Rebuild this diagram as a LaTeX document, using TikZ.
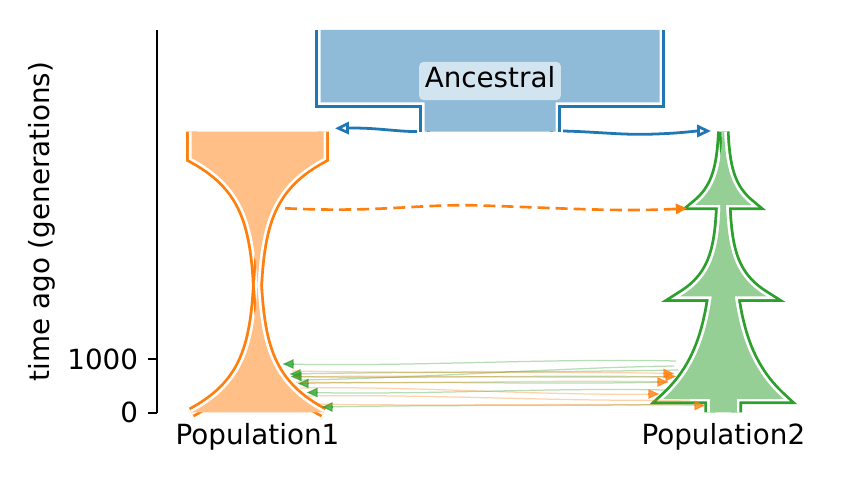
\documentclass[tikz,border=0pt]{standalone}
\usepackage{fontspec}
\setmainfont{DejaVu Sans}
\usetikzlibrary{arrows.meta}
\definecolor{tabblue}{HTML}{1F77B4}
\definecolor{taborange}{HTML}{FF7F0E}
\definecolor{tabgreen}{HTML}{2CA02C}
\definecolor{fillblue}{RGB}{143,187,217}
\definecolor{fillorange}{RGB}{255,191,134}
\definecolor{fillgreen}{RGB}{149,207,149}
\definecolor{labelbox}{RGB}{210,228,240}
\begin{document}
\begin{tikzpicture}[x=0.36pt,y=-0.36pt,font=\fontsize{10}{12}\selectfont,
  popline/.style={line width=1pt, double=white, double distance=1.9pt, line join=miter},
  axisline/.style={line width=0.8pt, black},
  ticklabel/.style={anchor=east, inner sep=0pt},
  poplabel/.style={anchor=base, inner sep=0pt},
  ancarrow/.style={tabblue, line width=1pt, -{Triangle[length=5pt,width=4.4pt,fill=white]}},
  pulsearrow/.style={taborange, line width=0.95pt, dash pattern=on 4.3pt off 2.2pt, -{Triangle[length=4pt,width=3.6pt]}},
  migline/.style={line width=0.45pt, opacity=0.35},
  mighead/.style={line width=0.45pt, opacity=0.75, -{Triangle[length=3.8pt,width=3.4pt]}}]
\useasboundingbox (0,0) rectangle (852,480);

% ---- axis ----
\draw[axisline] (156.7,30) -- (156.7,412.7);
\draw[axisline] (148.3,412.7) -- (156.7,412.7);
\draw[axisline] (148.3,359.3) -- (156.7,359.3);
\node[ticklabel] (t0) at (138.6,412.7) {0};
\node[ticklabel] (t1000) at (138.6,359.3) {1000};
\node[rotate=90, inner sep=0pt] (ylab) at (41.7,221.5) {time ago (generations)};

% ---- Ancestral ----
\draw[tabblue, popline] (320.5,30) -- (320.5,102.5) -- (424.5,102.5) -- (424.5,131.7);
\draw[tabblue, popline] (659.5,30) -- (659.5,102.5) -- (555.5,102.5) -- (555.5,131.7);
\fill[fillblue] (320.5,30) -- (320.5,102.5) -- (424.5,102.5) -- (424.5,131.7) -- (555.5,131.7)
  -- (555.5,102.5) -- (659.5,102.5) -- (659.5,30) -- cycle;
\node[fill=labelbox, rounded corners=1.5pt, inner xsep=2pt, inner ysep=2pt,
  text height=7.3pt, text depth=2.4pt] (anc) at (490,81) {Ancestral};

% ---- Population1 ----
\draw[taborange, popline] (191.5,131.7) -- (191.5,158)
  -- plot[domain=158:285, samples=40, variable=\t] ({259.5-68*exp(-0.0275*(\t-158))},\t)
  -- plot[domain=285:412.5, samples=40, variable=\t] ({259.5-68*exp(-0.0275*(412.5-\t))},\t);
\draw[taborange, popline] (323.5,131.7) -- (323.5,158)
  -- plot[domain=158:285, samples=40, variable=\t] ({255.5+68*exp(-0.0275*(\t-158))},\t)
  -- plot[domain=285:412.5, samples=40, variable=\t] ({255.5+68*exp(-0.0275*(412.5-\t))},\t);
\fill[fillorange] (191.5,131.7) -- (191.5,158)
  -- plot[domain=158:285, samples=40, variable=\t] ({259.5-68*exp(-0.0275*(\t-158))},\t)
  -- plot[domain=285:412.5, samples=40, variable=\t] ({259.5-68*exp(-0.0275*(412.5-\t))},\t)
  -- plot[domain=285:412.5, samples=40, variable=\t] ({255.5+68*exp(-0.0275*(\t-285))},{697.5-\t})
  -- plot[domain=158:285, samples=40, variable=\t] ({255.5+68*exp(-0.0275*(285-\t))},{443-\t})
  -- (323.5,131.7) -- cycle;

% ---- Population2 ----
\draw[tabgreen, popline]
  plot[domain=0:73.1, samples=30, variable=\t] ({722.5-1.05*(exp(0.045*\t)-1)},{131.7+\t})
  -- (720.6,204.8)
  -- plot[domain=0:91.7, samples=30, variable=\t] ({720.6-1.07*(exp(0.04*\t)-1)},{204.8+\t})
  -- (711.8,296.5)
  -- plot[domain=0:102.3, samples=30, variable=\t] ({711.8-7.2*(exp(0.02*\t)-1)},{296.5+\t})
  -- (709.8,398.8) -- (709.8,412.5);
\draw[tabgreen, popline]
  plot[domain=0:73.1, samples=30, variable=\t] ({724.1+1.05*(exp(0.045*\t)-1)},{131.7+\t})
  -- (726.0,204.8)
  -- plot[domain=0:91.7, samples=30, variable=\t] ({726.0+1.07*(exp(0.04*\t)-1)},{204.8+\t})
  -- (734.8,296.5)
  -- plot[domain=0:102.3, samples=30, variable=\t] ({734.8+7.2*(exp(0.02*\t)-1)},{296.5+\t})
  -- (736.8,398.8) -- (736.8,412.5);
\fill[fillgreen]
  plot[domain=0:73.1, samples=30, variable=\t] ({722.5-1.05*(exp(0.045*\t)-1)},{131.7+\t})
  -- (720.6,204.8)
  -- plot[domain=0:91.7, samples=30, variable=\t] ({720.6-1.07*(exp(0.04*\t)-1)},{204.8+\t})
  -- (711.8,296.5)
  -- plot[domain=0:102.3, samples=30, variable=\t] ({711.8-7.2*(exp(0.02*\t)-1)},{296.5+\t})
  -- (709.8,398.8) -- (709.8,412.5) -- (736.8,412.5) -- (736.8,398.8)
  -- plot[domain=0:102.3, samples=30, variable=\t] ({734.8+7.2*(exp(0.02*(102.3-\t))-1)},{398.8-\t})
  -- (734.8,296.5)
  -- plot[domain=0:91.7, samples=30, variable=\t] ({726.0+1.07*(exp(0.04*(91.7-\t))-1)},{296.5-\t})
  -- (726.0,204.8)
  -- plot[domain=0:73.1, samples=30, variable=\t] ({724.1+1.05*(exp(0.045*(73.1-\t))-1)},{204.8-\t})
  -- cycle;

% ---- ancestry arrows ----
\coordinate (ancL) at (417,131.6);
\coordinate (p1top) at (335,128.4);
\coordinate (ancR) at (563,131);
\coordinate (p2top) at (711,131);
\draw[ancarrow] (ancL) .. controls (395,131.5) and (375,127.5) .. (p1top);
\draw[ancarrow] (ancR) .. controls (600,132) and (620,135) .. (650,134.2)
  .. controls (680,133.4) and (695,131) .. (p2top);

% ---- pulse ----
\coordinate (pulseA) at (285,208.3);
\coordinate (pulseB) at (687,208.3);
\draw[pulsearrow] (pulseA) .. controls (380,213) and (420,203.5) .. (480,205.5)
  .. controls (560,208) and (620,212) .. (pulseB);

% ---- migrations ----
\foreach \i/\xa/\ya/\xb/\yb/\w in {1/676/361/283/364/-3, 2/678/370/290/374/2.5,
   3/672/377/291/376.5/-2.5, 4/668/382/298/383.5/3, 5/665/390/307/392.5/-2.5,
   6/700/404/322/407/2.5, 7/674/366/300/380/2} {
  \coordinate (ga\i) at (\xa,\ya);
  \coordinate (gb\i) at (\xb,\yb);
  \draw[migline, tabgreen] (ga\i) .. controls ({\xa+(\xb-\xa)/3},{\ya+\w}) and ({\xa+2*(\xb-\xa)/3},{\yb-\w}) .. (gb\i);
}
\foreach \i in {1,...,6} {
  \draw[mighead, tabgreen] ([xshift=3.8pt]gb\i) -- (gb\i);
}
\foreach \i/\xa/\ya/\xb/\yb/\w in {1/292/371/674/373.5/2.5, 2/293/377/676/376.5/-2.5,
   3/296/382/668/382/2.5, 4/300/388/659/394/-2, 5/315/404/705/405.5/2.5,
   6/305/396/690/400/-2} {
  \coordinate (oa\i) at (\xa,\ya);
  \coordinate (ob\i) at (\xb,\yb);
  \draw[migline, taborange] (oa\i) .. controls ({\xa+(\xb-\xa)/3},{\ya+\w}) and ({\xa+2*(\xb-\xa)/3},{\yb-\w}) .. (ob\i);
}
\foreach \i in {1,...,5} {
  \draw[mighead, taborange] ([xshift=-3.8pt]ob\i) -- (ob\i);
}

% ---- labels ----
\node[poplabel] (lab1) at (257.5,445) {Population1};
\node[poplabel] (lab2) at (723.3,445) {Population2};
\end{tikzpicture}
\end{document}
